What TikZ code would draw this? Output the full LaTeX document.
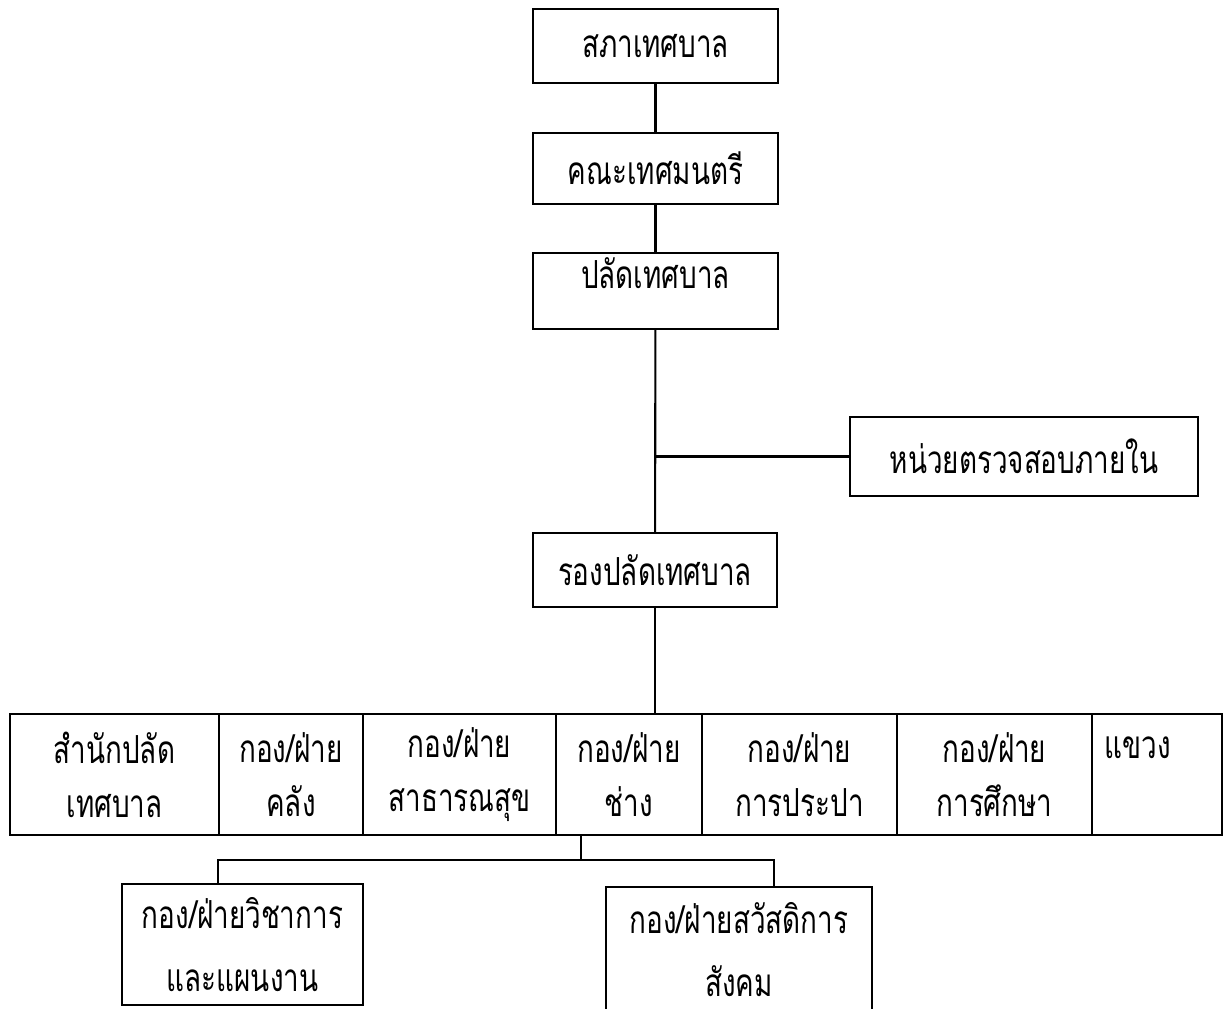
\documentclass[tikz,border=0pt]{standalone}
\usepackage{fontspec}
\newfontfamily\thaifont[Script=Thai,FakeStretch=0.72]{Loma}
\tikzset{
  unit/.style={draw,line width=0.6pt,inner sep=0pt,align=center,
    font=\thaifont\fontsize{11}{15.3}\selectfont},
  cell/.style={unit,minimum height=12.1mm},
  sub/.style={unit,minimum height=12.1mm,font=\thaifont\fontsize{11}{17.8}\selectfont},
}
\begin{document}
\begin{tikzpicture}[x=0.1mm,y=-0.1mm,line width=0.6pt]
  \useasboundingbox (0,0) rectangle (1228,1008);
  % chain of command
  \node[unit,minimum width=24.5mm,minimum height=7.4mm] (council) at (655.5,46) {สภาเทศบาล};
  \node[unit,minimum width=24.5mm,minimum height=7.1mm] (mayor) at (655.5,168.5) {คณะเทศมนตรี};
  \node[unit,minimum width=24.5mm,minimum height=7.6mm,text depth=3.6mm] (clerk) at (655.5,291) {ปลัดเทศบาล};
  \node[unit,minimum width=34.8mm,minimum height=7.9mm] (audit) at (1024,456.5) {หน่วยตรวจสอบภายใน};
  \node[unit,minimum width=24.4mm,minimum height=7.4mm] (deputy) at (655,570) {รองปลัดเทศบาล};
  \draw (council) -- (mayor);
  \draw (mayor) -- (clerk);
  \draw (clerk) -- (deputy);
  \draw (clerk.south |- audit.west) -- (audit.west);
  % row of divisions
  \node[cell,minimum width=20.9mm] (office) at (114.5,774.5) {สำนักปลัด\\เทศบาล};
  \node[cell,minimum width=14.4mm] (treasury) at (291,774.5) {กอง/ฝ่าย\\คลัง};
  \node[cell,minimum width=19.3mm] (health) at (459.5,774.5) {กอง/ฝ่าย\\สาธารณสุข};
  \node[cell,minimum width=14.6mm] (works) at (629,774.5) {กอง/ฝ่าย\\ช่าง};
  \node[cell,minimum width=19.5mm] (water) at (799.5,774.5) {กอง/ฝ่าย\\การประปา};
  \node[cell,minimum width=19.5mm] (school) at (994.5,774.5) {กอง/ฝ่าย\\การศึกษา};
  \node[cell,minimum width=13mm,text width=10.5mm,align=left] (district) at (1157,774.5) {แขวง\\\phantom{แขวง}};
  \draw (deputy) -- (deputy.south |- works.north);
  % sections under works
  \node[sub,minimum width=24.1mm] (plan) at (242.5,944.5) {กอง/ฝ่ายวิชาการ\\และแผนงาน};
  \node[sub,minimum width=26.6mm,minimum height=12.5mm] (welfare) at (739,949.5) {กอง/ฝ่ายสวัสดิการ\\สังคม};
  \coordinate (split) at (581,860);
  \coordinate (planjoin) at (218,860);
  \coordinate (welfjoin) at (774,860);
  \draw (split |- works.south) -- (split);
  \draw (planjoin |- plan.north) -- (planjoin) -- (welfjoin) -- (welfjoin |- welfare.north);
\end{tikzpicture}
\end{document}
